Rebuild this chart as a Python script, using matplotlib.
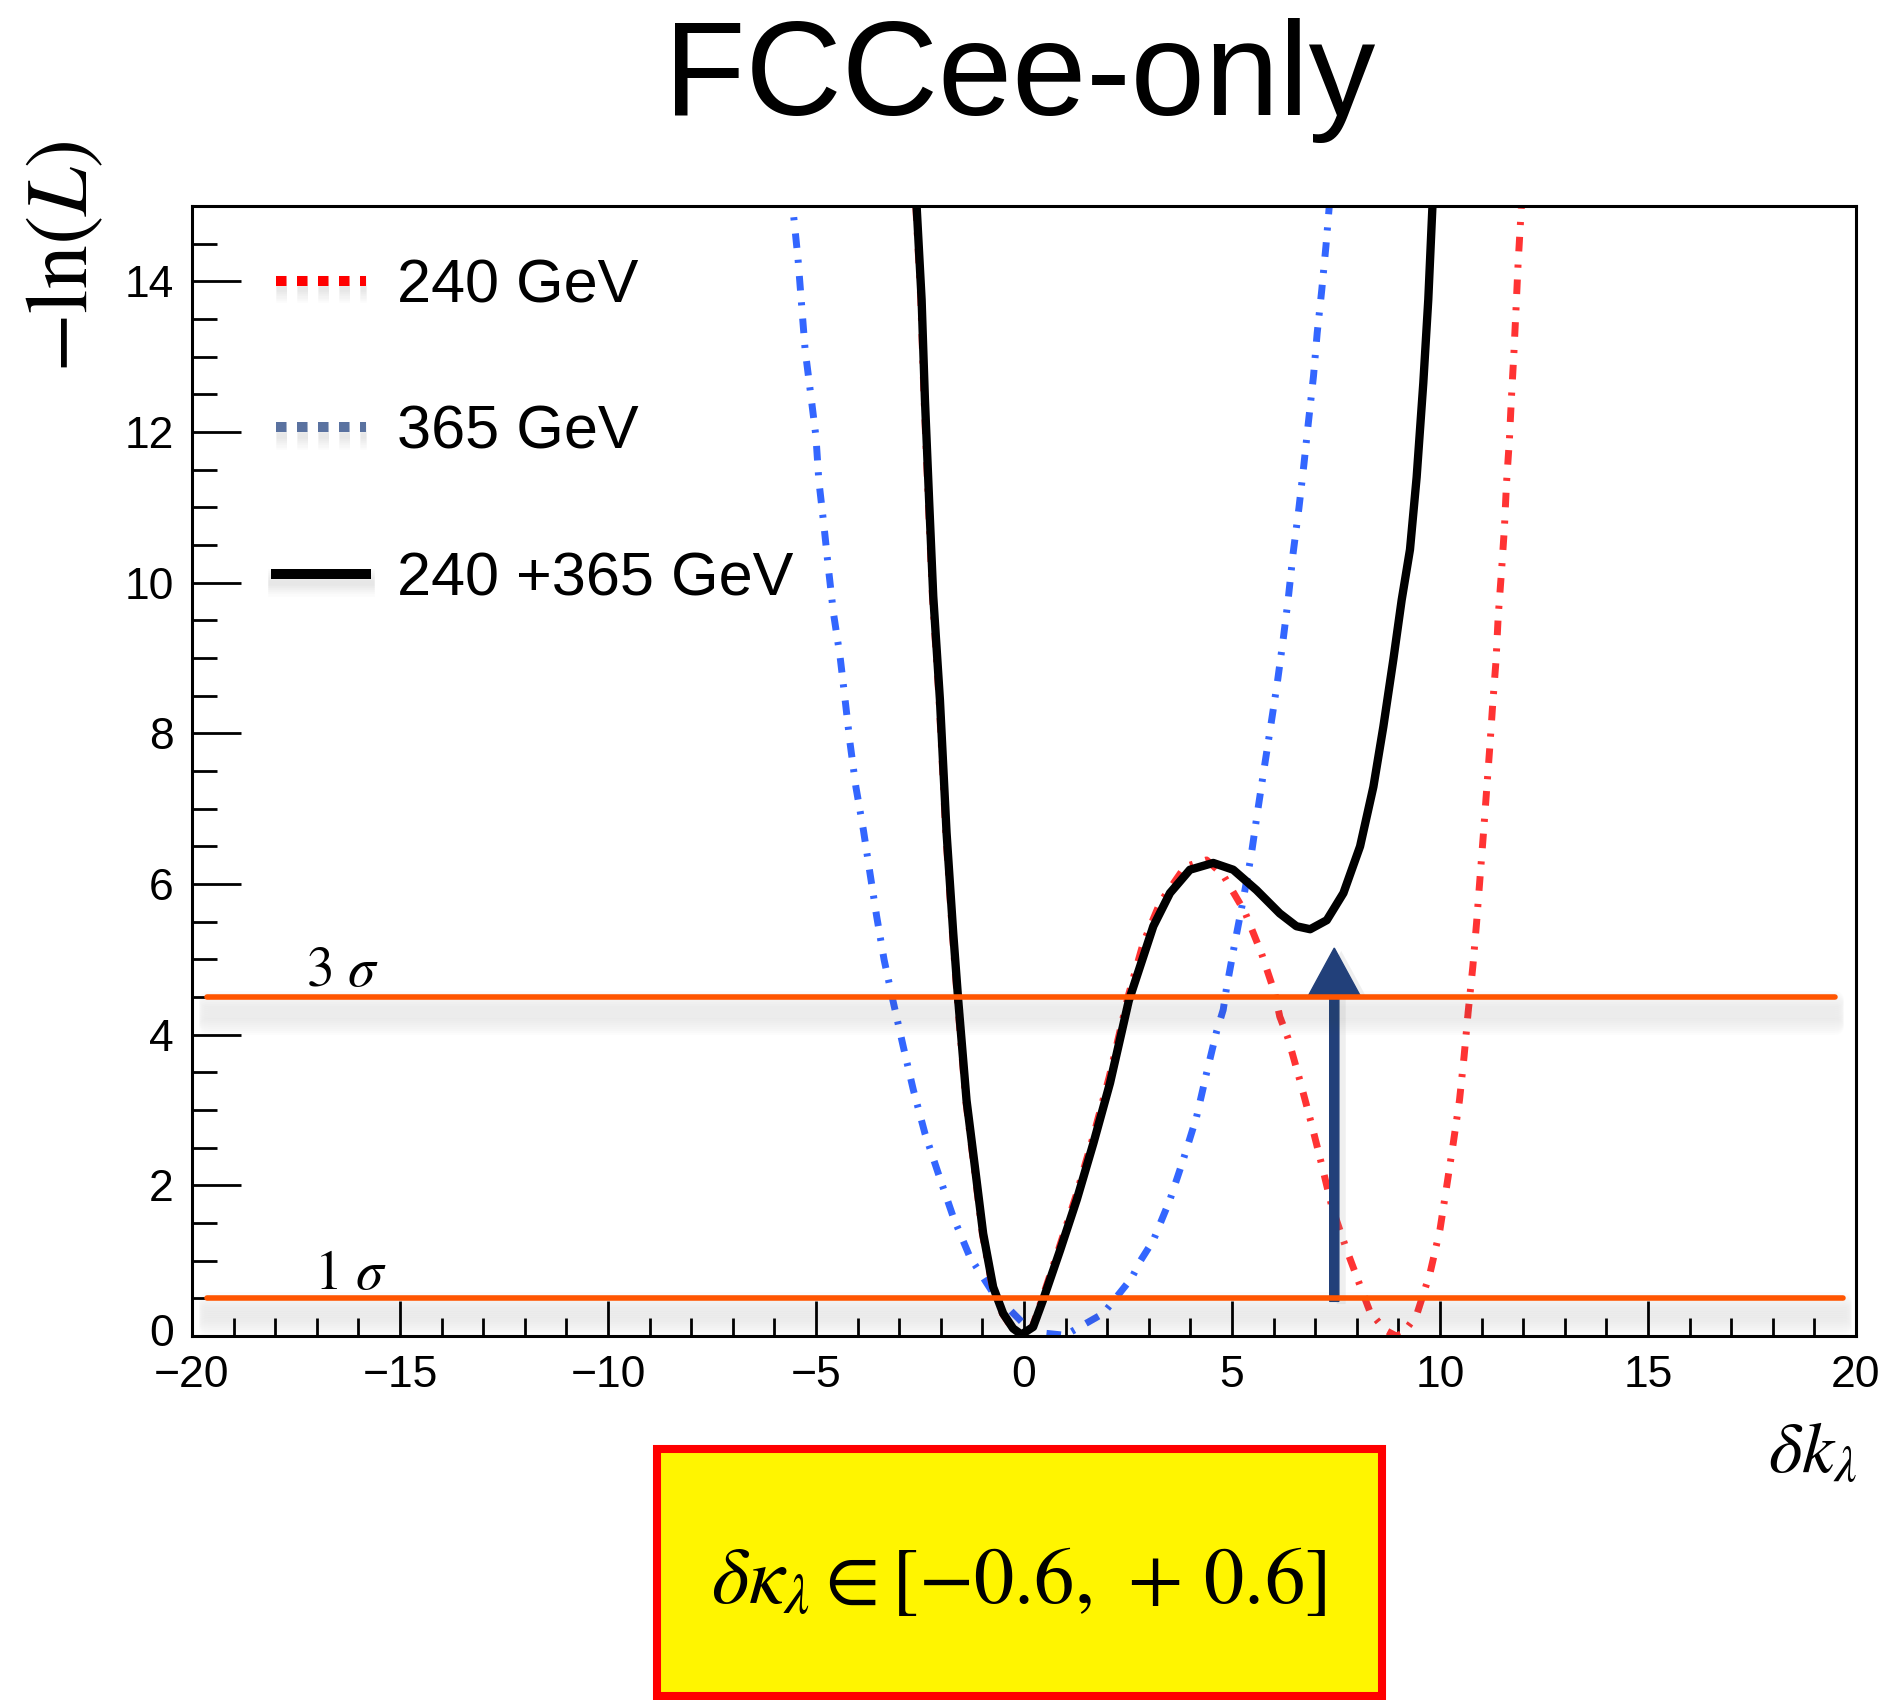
import numpy as np
import matplotlib
matplotlib.use("Agg")
import matplotlib.pyplot as plt
import matplotlib.patheffects as pe
from matplotlib.lines import Line2D
from matplotlib.patches import Rectangle
from matplotlib.ticker import MultipleLocator
from matplotlib.transforms import ScaledTranslation

# ====== DATA ======
# 240 GeV  (-ln L vs delta k_lambda)
x_240 = [-2.60, -2.48, -2.40, -2.30, -2.20, -2.04, -1.88, -1.72, -1.60, -1.40,
         -1.20, -1.00, -0.76, -0.52, -0.28, -0.06, 0.20, 0.44, 0.85, 1.25,
         1.65, 2.05, 2.50, 2.87, 3.27, 3.87, 4.39, 4.79, 5.31, 5.71,
         6.03, 6.15, 6.35, 6.63, 6.91, 7.16, 7.40, 7.76, 8.12, 8.32,
         8.68, 8.95, 9.12, 9.44, 9.76, 10.00, 10.16, 10.32, 10.47, 10.58,
         10.68, 10.79, 10.88, 10.96, 11.04, 11.12, 11.20, 11.27, 11.35, 11.40,
         11.48, 11.55, 11.60, 11.67, 11.72, 11.78, 11.83, 11.88, 11.94, 11.97]
y_240 = [15.00, 13.76, 12.43, 11.10, 9.82, 8.45, 6.68, 5.35, 4.46, 3.13,
         2.25, 1.36, 0.65, 0.30, 0.10, 0.00, 0.12, 0.50, 1.18, 1.86,
         2.62, 3.44, 4.50, 5.22, 5.75, 6.23, 6.32, 6.12, 5.63, 5.08,
         4.55, 4.24, 3.95, 3.40, 2.82, 2.27, 1.72, 1.14, 0.61, 0.32,
         0.08, 0.00, 0.04, 0.28, 0.83, 1.41, 1.98, 2.56, 3.13, 3.71,
         4.31, 4.90, 5.48, 6.06, 6.63, 7.23, 7.83, 8.40, 8.98, 9.55,
         10.15, 10.73, 11.32, 11.90, 12.47, 13.07, 13.65, 14.25, 14.82, 15.10]

# 365 GeV
x_365 = [-5.60, -5.56, -5.43, -5.26, -5.13, -5.00, -4.93, -4.81, -4.70, -4.58,
         -4.42, -4.30, -4.18, -4.04, -3.86, -3.70, -3.54, -3.36, -3.16, -2.90,
         -2.66, -2.38, -2.06, -1.70, -1.30, -0.74, -0.02, 0.46, 0.99, 1.91,
         2.59, 2.79, 3.11, 3.51, 3.83, 4.15, 4.39, 4.63, 4.79, 4.87,
         5.07, 5.27, 5.46, 5.61, 5.77, 5.93, 6.09, 6.23, 6.35, 6.47,
         6.61, 6.73, 6.84, 6.96, 7.05, 7.16, 7.26, 7.34, 7.38]
y_365 = [15.20, 15.00, 14.29, 13.09, 12.52, 11.94, 11.35, 10.77, 10.19, 9.60,
         9.02, 8.45, 7.87, 7.29, 6.72, 6.14, 5.57, 4.99, 4.48, 3.84,
         3.27, 2.69, 2.16, 1.58, 1.05, 0.57, 0.17, 0.04, 0.01, 0.30,
         0.77, 0.99, 1.27, 1.81, 2.34, 2.91, 3.49, 4.04, 4.33, 4.62,
         5.22, 5.79, 6.37, 6.94, 7.52, 8.09, 8.67, 9.24, 9.77, 10.39,
         10.99, 11.57, 12.14, 12.74, 13.32, 13.89, 14.47, 15.00, 15.20]

# 240 + 365 GeV
x_comb = [-2.58, -2.46, -2.38, -2.28, -2.18, -2.02, -1.86, -1.70, -1.58, -1.38,
          -1.18, -0.98, -0.74, -0.50, -0.26, -0.06, 0.22, 0.46, 0.87, 1.27,
          1.67, 2.07, 2.52, 3.11, 3.51, 3.99, 4.55, 5.03, 5.59, 6.15,
          6.55, 6.88, 7.28, 7.68, 8.08, 8.40, 8.64, 8.88, 9.08, 9.28,
          9.44, 9.60, 9.72, 9.82, 9.84]
y_comb = [15.00, 13.76, 12.43, 11.10, 9.82, 8.45, 6.68, 5.35, 4.46, 3.13,
          2.25, 1.36, 0.65, 0.30, 0.10, 0.02, 0.12, 0.48, 1.14, 1.81,
          2.56, 3.36, 4.45, 5.44, 5.88, 6.19, 6.28, 6.19, 5.92, 5.61,
          5.44, 5.40, 5.52, 5.88, 6.50, 7.29, 8.09, 8.98, 9.77, 10.44,
          11.40, 12.65, 13.76, 15.00, 15.20]

legend_labels = ["240 GeV", "365 GeV", "240 +365 GeV"]

sigma_levels = [4.5, 0.5]
sigma_labels = [r"$3\ \sigma$", r"$1\ \sigma$"]
sigma_x_start = [-19.65, -19.65]
sigma_x_end = [19.49, 19.69]
sigma_label_pos = [(-17.26, 4.65), (-17.07, 0.62)]

arrow_x = 7.46
arrow_y = (0.46, 5.15)

interval_text = r"$\delta\kappa_{\lambda} \in [-0.6,\,+\,0.6]$"

# ====== STYLE ======
plt.rcParams["font.family"] = ["Liberation Sans", "DejaVu Sans"]
plt.rcParams["mathtext.fontset"] = "stix"
plt.rcParams["axes.unicode_minus"] = True

C_RED = "#ff3333"
C_BLUE = "#3366ff"
C_ORANGE = "#ff5500"
C_NAVY = "#22407a"


def soft_shadow(n=8, step=1.8, alpha=0.035, lw=None, dx=0.0):
    # stack of faint offset copies -> blurred drop shadow
    fx = []
    for k in range(1, n + 1):
        kw = dict(offset=(dx, -step * k), shadow_color="0.3", alpha=alpha)
        if lw is not None:
            kw["linewidth"] = lw
        fx.append(pe.SimpleLineShadow(**kw))
    return fx + [pe.Normal()]


fig = plt.figure(figsize=(18.8, 17), dpi=100)
ax = fig.add_axes([0.1021, 0.2141, 0.8851, 0.6647])

# curves
ax.plot(x_365, y_365, color=C_BLUE, lw=5, dashes=(2.1, 1.7, 0.45, 1.9),
        dash_capstyle="butt", zorder=2)
ax.plot(x_240, y_240, color=C_RED, lw=5, dashes=(2.1, 1.7, 0.45, 1.9),
        dash_capstyle="butt", zorder=2)
ax.plot(x_comb, y_comb, color="black", lw=6, solid_joinstyle="round",
        solid_capstyle="round", zorder=3)

# arrow
arr = ax.arrow(arrow_x, arrow_y[0], 0, arrow_y[1] - arrow_y[0], width=0.22,
               head_width=1.26, head_length=0.64, length_includes_head=True,
               color=C_NAVY, zorder=4)
arr.set_path_effects([pe.SimplePatchShadow(offset=(5, -2), shadow_rgbFace="0.6",
                                           alpha=0.15), pe.Normal()])

# sigma lines
for lev, x0, x1 in zip(sigma_levels, sigma_x_start, sigma_x_end):
    ax.plot([x0, x1], [lev, lev], color=C_ORANGE, lw=4, solid_capstyle="round",
            zorder=5, path_effects=soft_shadow(n=14, step=1.5, alpha=0.012, lw=12))
for lab, (tx, ty) in zip(sigma_labels, sigma_label_pos):
    ax.text(tx, ty, lab, fontsize=40, ha="left", va="baseline", zorder=6)

# legend
handles = [
    Line2D([], [], color="#ff0000", lw=7.2, dashes=(1.05, 1.05), dash_capstyle="butt",
           path_effects=soft_shadow(n=6, step=1.6, alpha=0.02, lw=12)),
    Line2D([], [], color="#5a72a0", lw=7.2, dashes=(1.05, 1.05), dash_capstyle="butt",
           path_effects=soft_shadow(n=6, step=1.6, alpha=0.02, lw=12)),
    Line2D([], [], color="black", lw=7.2,
           path_effects=soft_shadow(n=6, step=1.6, alpha=0.02, lw=12)),
]
ax.legend(handles, legend_labels, loc="upper left", bbox_to_anchor=(0.0505, 0.954),
          frameon=False, fontsize=44, handlelength=1.48, handletextpad=0.5,
          labelspacing=1.47, borderpad=0, borderaxespad=0)

# axes
ax.set_xlim(-20, 20)
ax.set_ylim(0, 15)
ax.set_xticks(np.arange(-20, 21, 5))
ax.set_yticks(np.arange(0, 15, 2))
ax.xaxis.set_minor_locator(MultipleLocator(1))
ax.yaxis.set_minor_locator(MultipleLocator(0.5))
ax.tick_params(which="both", direction="in", top=False, right=False, width=2)
ax.tick_params(axis="x", which="major", length=25, pad=14, labelsize=32)
ax.tick_params(axis="x", which="minor", length=13)
ax.tick_params(axis="y", which="major", length=35, pad=13, labelsize=32)
ax.tick_params(axis="y", which="minor", length=18)
for s in ax.spines.values():
    s.set_linewidth(2.2)

# lift the "0" y label a little so it clears the "-20" x label
lbl0 = ax.yaxis.get_majorticklabels()[0]
lbl0.set_transform(lbl0.get_transform() + ScaledTranslation(0, 4 / 72, fig.dpi_scale_trans))

# texts
fig.text(0.5426, 0.9324, "FCCee-only", fontsize=96, ha="center", va="baseline")
fig.text(0.0346, 0.849, r"$-\mathrm{ln}(L)$", fontsize=63, rotation=90,
         ha="center", va="center")
fig.text(0.988, 0.134, r"$\delta k_{\lambda}$", fontsize=52, ha="right", va="baseline")

# result box
fig.add_artist(Rectangle((0.3495, 0.0024), 0.3856, 0.1453, transform=fig.transFigure,
                         facecolor="#fff500", edgecolor="#ff0000", lw=5.8))
fig.text(0.542, 0.057, interval_text, fontsize=58, ha="center", va="baseline")

fig.savefig("out.png", dpi=100)
